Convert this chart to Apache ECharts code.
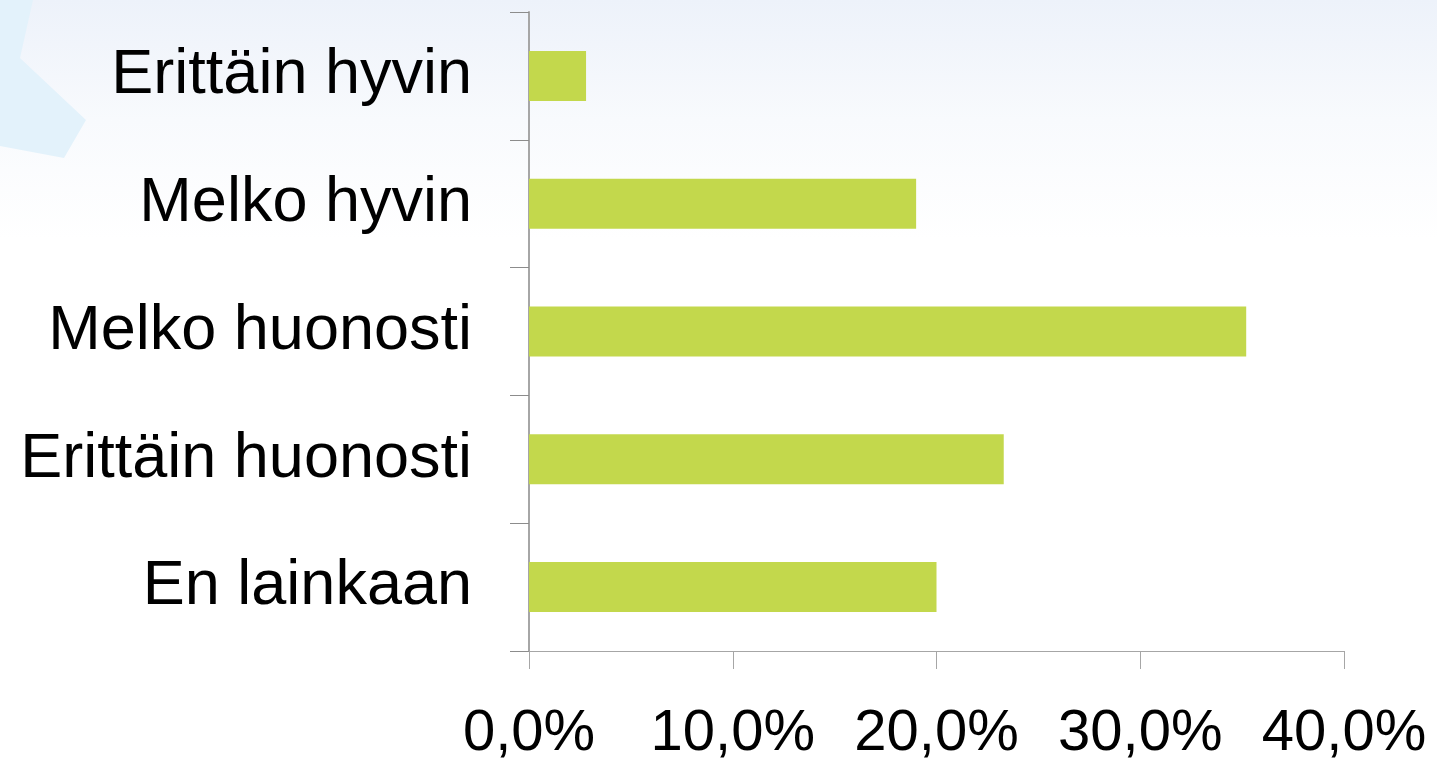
<!DOCTYPE html>
<html>
<head>
<meta charset="utf-8">
<script src="https://cdn.jsdelivr.net/npm/echarts@6/dist/echarts.min.js"></script>
<style>
  html, body { margin: 0; padding: 0; }
  body { background: linear-gradient(to bottom, #edf2fa 0px, #f8fafd 120px, #ffffff 240px); }
  #chart { width: 1437px; height: 765px; }
</style>
</head>
<body>
<div id="chart"></div>
<script>
var categories = ['Erittäin hyvin', 'Melko hyvin', 'Melko huonosti', 'Erittäin huonosti', 'En lainkaan']
var shares = [2.8, 19.0, 35.2, 23.3, 20.0]
var ticks = [0, 10, 20, 30, 40]

var chart = echarts.init(document.getElementById('chart'))
chart.setOption({
  animation: false,
  textStyle: { fontFamily: 'Liberation Sans, Arial, sans-serif' },
  graphic: [
    {
      type: 'polygon',
      z: -1,
      shape: { points: [[0, 0], [33, 0], [20, 58], [86, 120], [64, 158], [0, 146]] },
      style: { fill: '#e3f2fb' }
    }
  ],
  grid: { left: 529, right: 93, top: 12, bottom: 114 },
  xAxis: {
    type: 'value',
    min: ticks[0],
    max: ticks[ticks.length - 1],
    interval: 10,
    splitLine: { show: false },
    axisLine: { show: true, lineStyle: { color: '#a6a6a6', width: 1 } },
    axisTick: { show: true, length: 18, inside: false, lineStyle: { color: '#a6a6a6' } },
    axisLabel: {
      color: '#000',
      fontSize: 58,
      margin: 54,
      formatter: function (v) { return v.toFixed(1).replace('.', ',') + '%' }
    }
  },
  yAxis: {
    type: 'category',
    inverse: true,
    data: categories,
    axisLine: { show: true, lineStyle: { color: '#a6a6a6', width: 2 } },
    axisTick: { show: true, length: 19, lineStyle: { color: '#8c8c8c', width: 1 } },
    axisLabel: { color: '#000', fontSize: 63, margin: 57 }
  },
  series: [{
    type: 'bar',
    data: shares,
    barWidth: 50,
    itemStyle: { color: '#c3d84c' }
  }]
})
</script>
</body>
</html>
